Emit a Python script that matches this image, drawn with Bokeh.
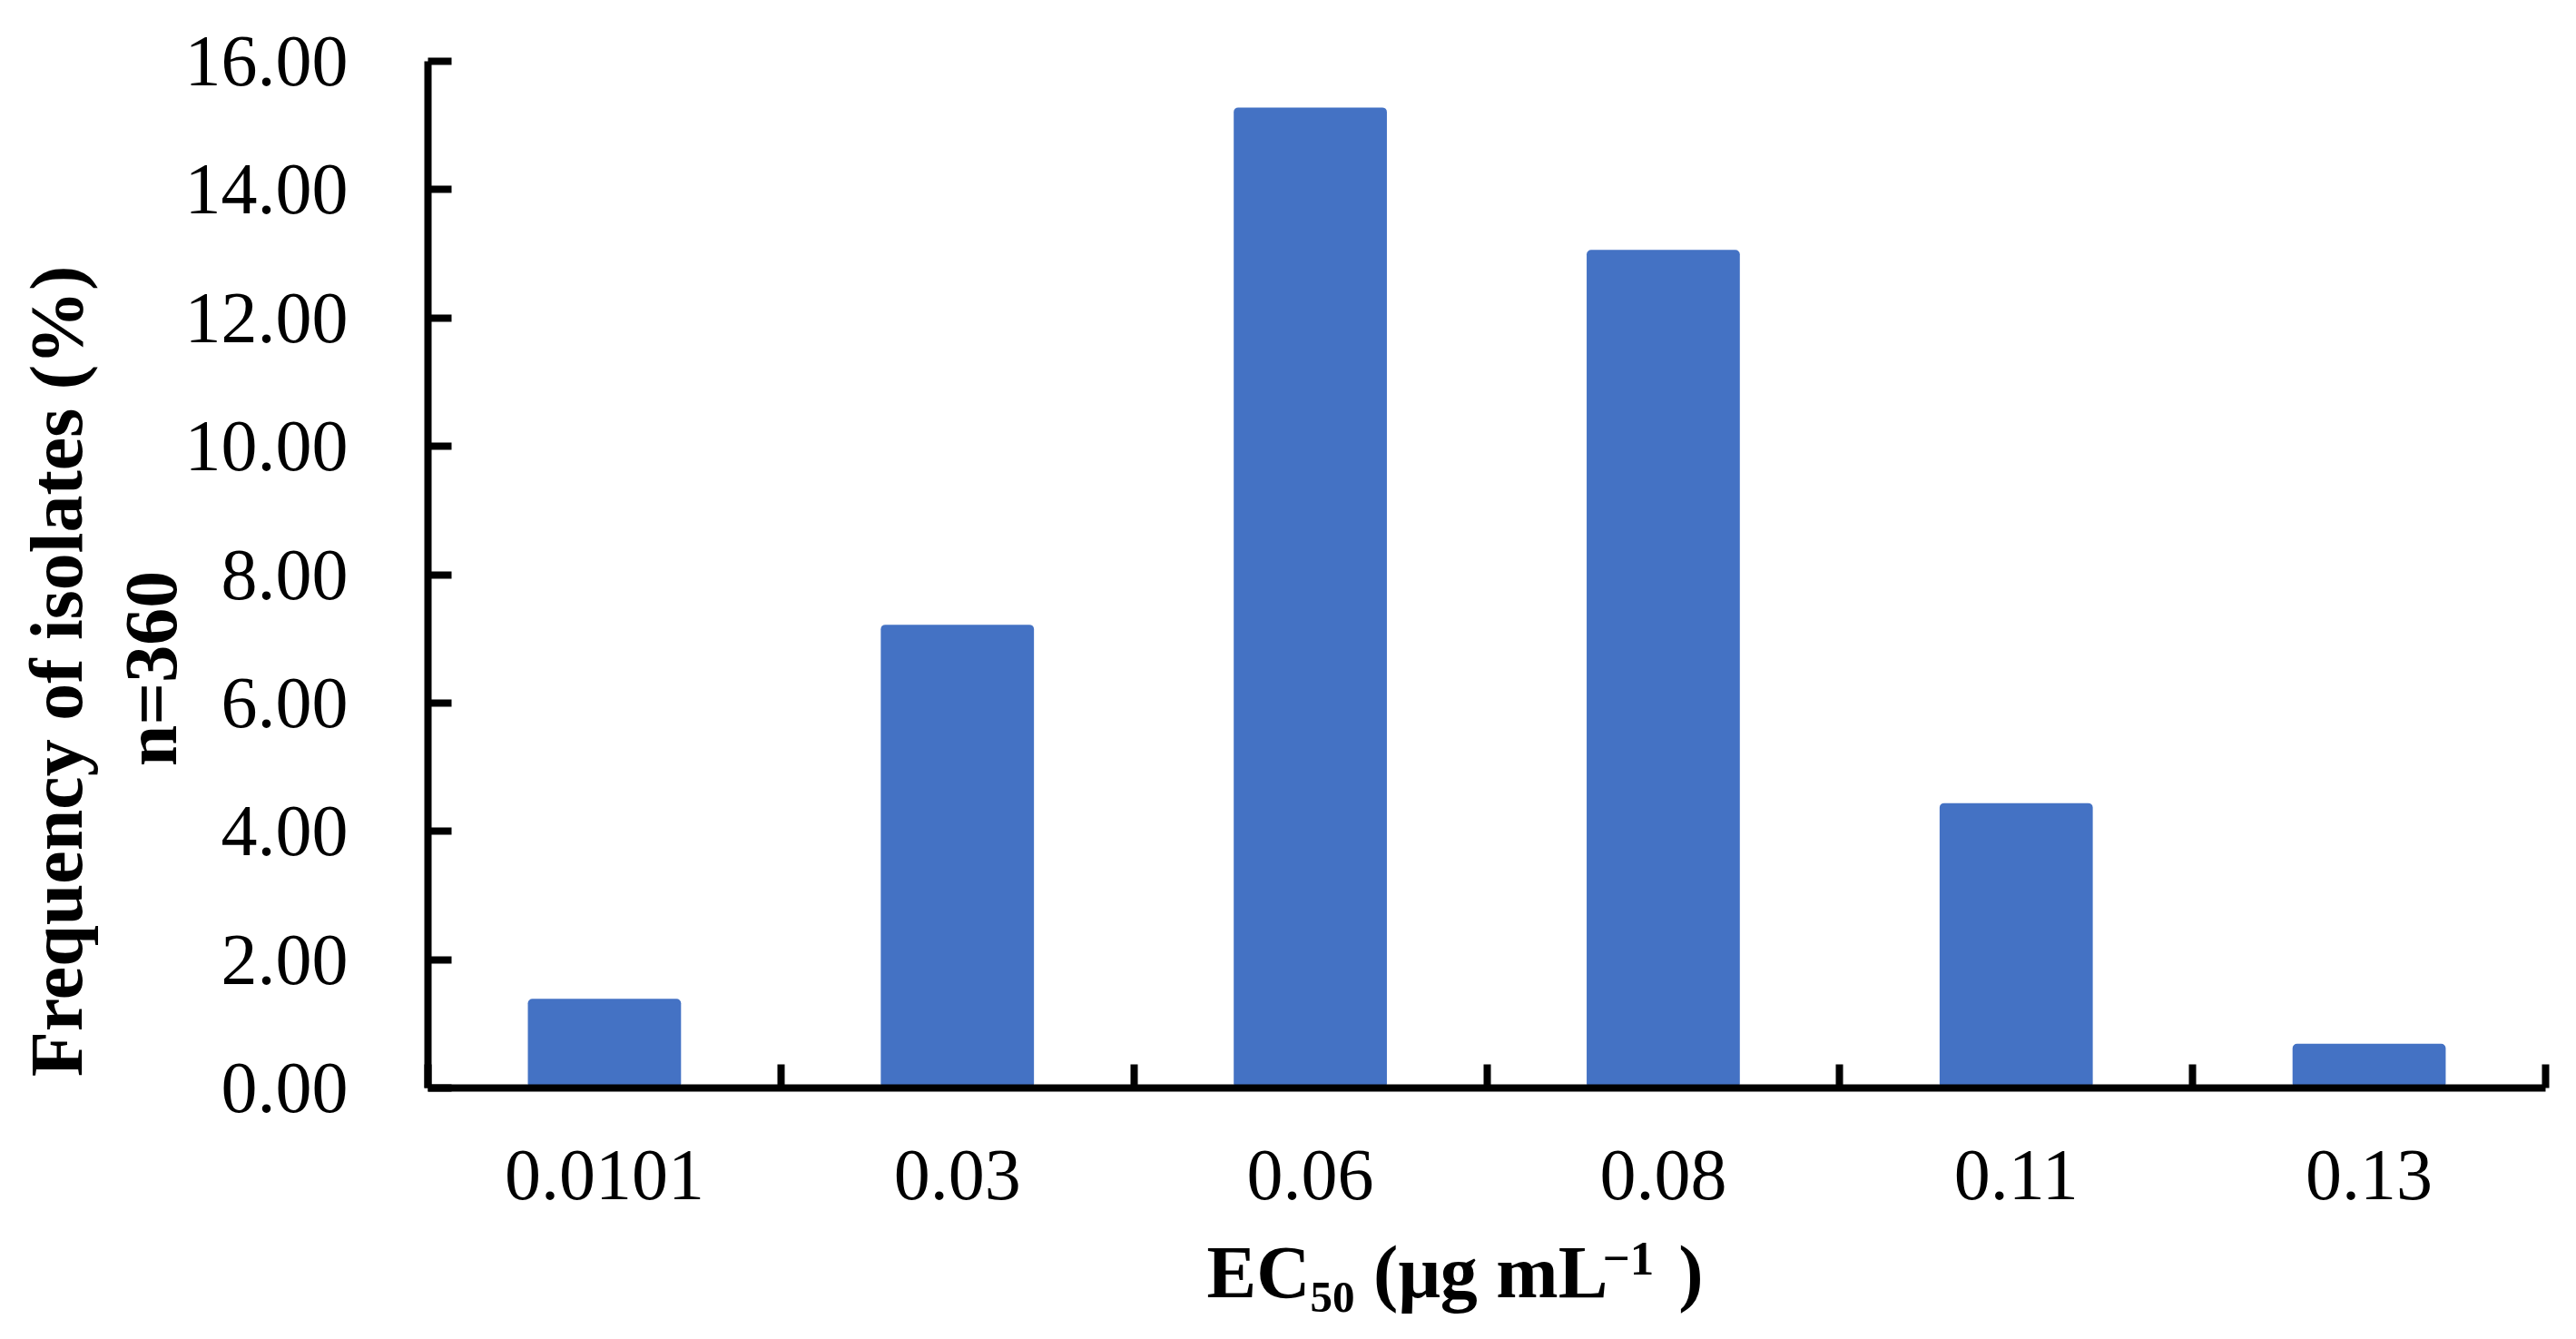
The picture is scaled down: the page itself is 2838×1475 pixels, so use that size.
import math
from bokeh.plotting import figure
from bokeh.models import Range1d, FixedTicker, NumeralTickFormatter, Label
from bokeh.embed import file_html
from bokeh.resources import INLINE

# ---- data ----
categories = ["0.0101", "0.03", "0.06", "0.08", "0.11", "0.13"]
frequency = [1.39, 7.22, 15.28, 13.06, 4.44, 0.69]
y_ticks = [0, 2, 4, 6, 8, 10, 12, 14, 16]
y_title = "Frequency of isolates (%)"
y_subtitle = "n=360"
NB = "\u00a0"
x_title_main = "EC₅₀ (μg mL" + NB * 3 + "\u2009)"
x_title_sup = "−1"

FONT = "Liberation Serif"
BAR_COLOR = "#4472C4"

W, H = 2822, 1459
FL, FR, FT, FB = 471, 2804, 67, 1198   # frame edges in picture pixels
ML, MT, MB, MR = FL, FT, H - FB, W - FR

X0, X1 = -0.5, len(categories) - 0.5
Y0, Y1 = 0, 16

p = figure(width=W, height=H, output_backend="svg", toolbar_location=None, title=None,
           x_range=Range1d(X0, X1), y_range=Range1d(Y0, Y1),
           min_border_left=ML, min_border_top=MT, min_border_bottom=MB, min_border_right=MR)
p.outline_line_color = None
p.xgrid.visible = False
p.ygrid.visible = False
p.background_fill_color = "white"
p.border_fill_color = "white"

xs = list(range(len(categories)))
p.vbar(x=xs, top=frequency, width=0.434, bottom=0, fill_color=BAR_COLOR,
       line_color=None, border_radius=5)

LW = 8
# x axis
xa = p.xaxis[0]
xa.ticker = FixedTicker(ticks=xs, minor_ticks=[i - 0.5 for i in range(len(categories) + 1)])
xa.major_label_overrides = {i: c for i, c in enumerate(categories)}
xa.major_tick_line_color = None
xa.minor_tick_in = 26
xa.minor_tick_out = 0
xa.minor_tick_line_width = LW
xa.minor_tick_line_color = "black"
xa.axis_line_width = LW
xa.axis_line_color = "black"
xa.major_label_text_font = FONT
xa.major_label_text_font_size = "80px"
xa.major_label_text_color = "black"
xa.major_label_standoff = 63

# y axis
ya = p.yaxis[0]
ya.ticker = FixedTicker(ticks=y_ticks)
ya.formatter = NumeralTickFormatter(format="0.00")
ya.major_tick_in = 26
ya.major_tick_out = 0
ya.major_tick_line_width = LW
ya.minor_tick_line_color = None
ya.axis_line_width = LW
ya.major_label_text_font = FONT
ya.major_label_text_font_size = "80px"
ya.major_label_text_color = "black"
ya.major_label_standoff = 88


def add_text(txt, px, py, size, side, angle=0.0, align="left"):
    # px, py: picture pixels (py = middle of the text line), converted to the
    # frame's data units; the label lives in a side panel so it is not clipped
    dx = X0 + (px - FL) / (FR - FL) * (X1 - X0)
    dy = Y0 + (FB - py) / (FB - FT) * (Y1 - Y0)
    p.add_layout(Label(x=dx, y=dy, x_units="data", y_units="data", text=txt,
                       text_font=FONT, text_font_style="bold", text_font_size=f"{size}px",
                       text_color="black", angle=angle, text_align=align,
                       text_baseline="middle"), side)


# y titles (rotated)
add_text(y_title, 62, 739, 82, "left", angle=math.pi / 2, align="center")
add_text(y_subtitle, 166, 736, 82, "left", angle=math.pi / 2, align="center")

# x title: EC50 (µg mL−1)  -- baseline 1429, superscript baseline 1404
add_text(x_title_main, 1329, 1429 - 0.3375 * 82, 82, "below")
add_text(x_title_sup, 1765, 1404 - 0.3375 * 53, 53, "above")

open("out.html", "w").write(file_html(p, INLINE))
